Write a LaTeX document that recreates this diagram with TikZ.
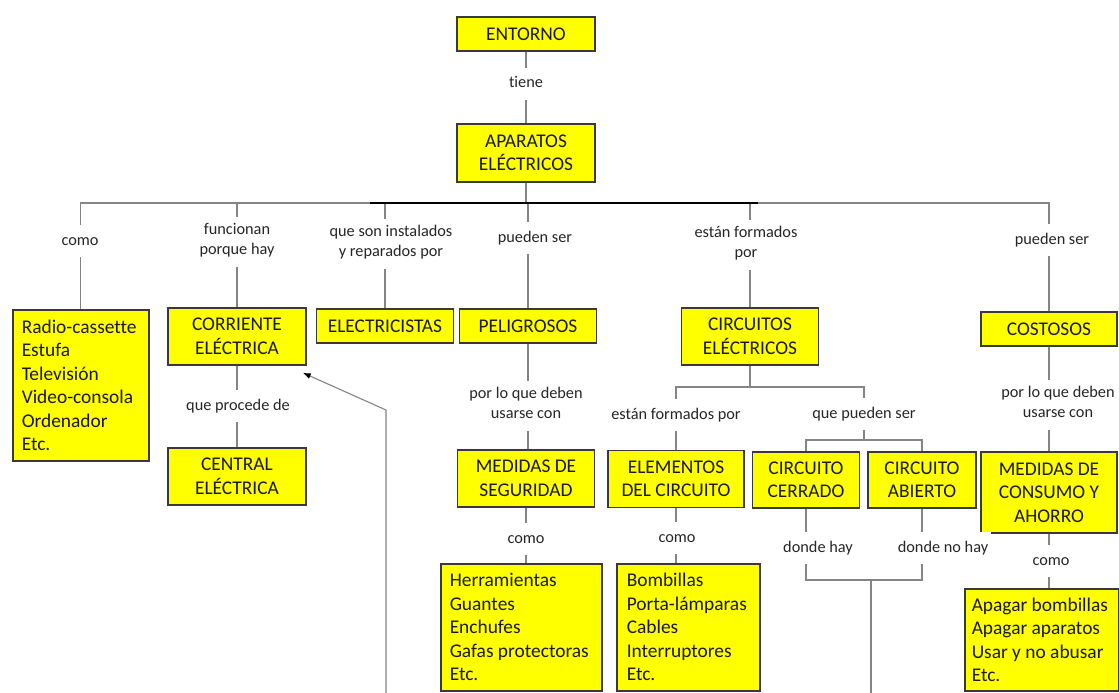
\documentclass[tikz,border=0pt]{standalone}
\usepackage{fontspec}
\setmainfont{Carlito}[Ligatures=CommonOff]
\usetikzlibrary{arrows.meta}
\definecolor{boxyellow}{HTML}{FFFF00}
\definecolor{boxline}{HTML}{3A3A3A}
\definecolor{linkgray}{HTML}{858585}
\newcommand{\boxfont}{\fontsize{19.4}{23.5}\selectfont}
\newcommand{\linkfont}{\fontsize{16.3}{20}\selectfont}
\tikzset{
	concept/.style={draw=boxline,line width=1.5pt,fill=boxyellow,font=\boxfont,align=center,inner sep=2pt,text=black!90},
	itemlist/.style={concept,align=flush left,anchor=north west},
	link/.style={fill=white,font=\linkfont,align=center,inner xsep=3pt,inner ysep=6pt,text=black!85,execute at begin node=\strut,execute at end node=\strut},
	wire/.style={draw=linkgray,line width=1.1pt}
}

\begin{document}
\begin{tikzpicture}[x=1pt,y=-1pt]
	\useasboundingbox (0,0) rectangle (1119,693);
	\fill[white] (0,0) rectangle (1119,693);

	\node[concept,minimum width=138pt,minimum height=34pt] (entorno) at (526,34) {ENTORNO};
	\node[concept,minimum width=138pt,minimum height=58pt] (aparatos) at (526,153) {APARATOS\\ELÉCTRICOS};

	\node[itemlist,text width=118pt,inner xsep=9pt,minimum height=151pt] (ejemplos) at (12,309) {Radio-cassette\\Estufa\\Televisión\\Video-consola\\Ordenador\\Etc.};
	\node[concept,minimum width=138pt,minimum height=57pt] (corriente) at (237,336.5) {CORRIENTE\\ELÉCTRICA};
	\node[concept,minimum width=138pt,minimum height=57pt] (central) at (237,476.5) {CENTRAL\\ELÉCTRICA};
	\node[concept,minimum width=137pt,minimum height=34pt] (electricistas) at (385,326) {ELECTRICISTAS};
	\node[concept,minimum width=137pt,minimum height=34pt] (peligrosos) at (528,326) {PELIGROSOS};
	\node[concept,minimum width=137pt,minimum height=57pt] (circuitos) at (750,336.5) {CIRCUITOS\\ELÉCTRICOS};
	\node[concept,minimum width=136pt,minimum height=34pt] (costosos) at (1049,329) {COSTOSOS};

	\node[concept,minimum width=137pt,minimum height=57pt] (seguridad) at (526,478.5) {MEDIDAS DE\\SEGURIDAD};
	\node[concept,minimum width=136pt,minimum height=57pt] (elementos) at (676,479) {ELEMENTOS\\DEL CIRCUITO};
	\node[concept,minimum width=107pt,minimum height=56pt] (cerrado) at (806,480) {CIRCUITO\\CERRADO};
	\node[concept,minimum width=108pt,minimum height=56pt] (abierto) at (922,480) {CIRCUITO\\ABIERTO};
	\node[concept,minimum width=136pt,minimum height=81pt] (consumo) at (1049,492.5) {MEDIDAS DE\\CONSUMO Y\\AHORRO};

	\node[itemlist,text width=143pt,inner xsep=9pt,minimum height=127pt] (herramientas) at (440,563) {Herramientas\\Guantes\\Enchufes\\Gafas protectoras\\Etc.};
	\node[itemlist,text width=123pt,inner xsep=10pt,minimum height=127pt] (bombillas) at (616,563) {Bombillas\\Porta-lámparas\\Cables\\Interruptores\\Etc.};
	\node[itemlist,text width=140pt,inner xsep=7pt,minimum height=102pt] (ahorro) at (964,588) {Apagar bombillas\\Apagar aparatos\\Usar y no abusar\\Etc.};

	\coordinate (bus) at (526,203);
	\coordinate (split) at (750,387);
	\coordinate (fork) at (864,440);
	\coordinate (join) at (871,580);
	\coordinate (joinend) at (871,700);
	\coordinate (backstart) at (386,700);
	\coordinate (backbend) at (386,410);

	\draw[wire] (entorno) -- (aparatos);
	\draw[wire] (aparatos) -- (bus);
	\draw[wire] (ejemplos.north) |- (bus) -| (costosos.north);
	\foreach \n in {corriente,electricistas,peligrosos,circuitos}
		\draw[wire] (\n.north) -- (\n.north |- bus);
	\draw[black,line width=1.6pt] (370,203) -- (758,203);

	\draw[wire] (corriente) -- (central);
	\draw[wire] (peligrosos.south) -- (peligrosos.south |- seguridad.north);
	\draw[wire] (seguridad.south) -- (seguridad.south |- herramientas.north);
	\draw[wire] (circuitos) -- (split);
	\draw[wire] (elementos.north) |- (split) -| (fork);
	\draw[wire] (cerrado.north) |- (fork) -| (abierto.north);
	\draw[wire] (elementos.south) -- (elementos.south |- bombillas.north);
	\draw[wire] (cerrado.south) |- (join) -| (abierto.south);
	\draw[wire] (join) -- (joinend);
	\draw[wire] (costosos) -- (consumo);
	\draw[wire] (consumo.south) -- (consumo.south |- ahorro.north);
	\draw[wire,->,>={Latex[black,length=8pt,width=6pt]}] (backstart) -- (backbend) -- ([shift={(-4pt,-7pt)}]corriente.south east);

	\node[link] (tiene) at (526,84) {tiene};
	\node[link] (como-a) at (80,241) {como};
	\node[link] (funcionan) at (237,242) {funcionan\\porque hay};
	\node[link] (instalados) at (391,244) {que son instalados\\y reparados por};
	\node[link] (pueden-a) at (535,238) {pueden ser};
	\node[link] (formados-a) at (746,245) {están formados\\por};
	\node[link] (pueden-b) at (1052,240) {pueden ser};
	\node[link] (procede) at (238,406) {que procede de};
	\node[link] (deben-a) at (526,406) {por lo que deben\\usarse con};
	\node[link] (formados-b) at (676,415) {están formados por};
	\node[link] (pueden-c) at (864,414) {que pueden ser};
	\node[link] (deben-b) at (1058,405) {por lo que deben\\usarse con};
	\node[link] (como-b) at (526,539) {como};
	\node[link] (como-c) at (677,538) {como};
	\node[link] (hay) at (818,548) {donde hay};
	\node[link] (nohay) at (943,548) {donde no hay};
	\node[link] (como-d) at (1051,561) {como};
\end{tikzpicture}
\end{document}
